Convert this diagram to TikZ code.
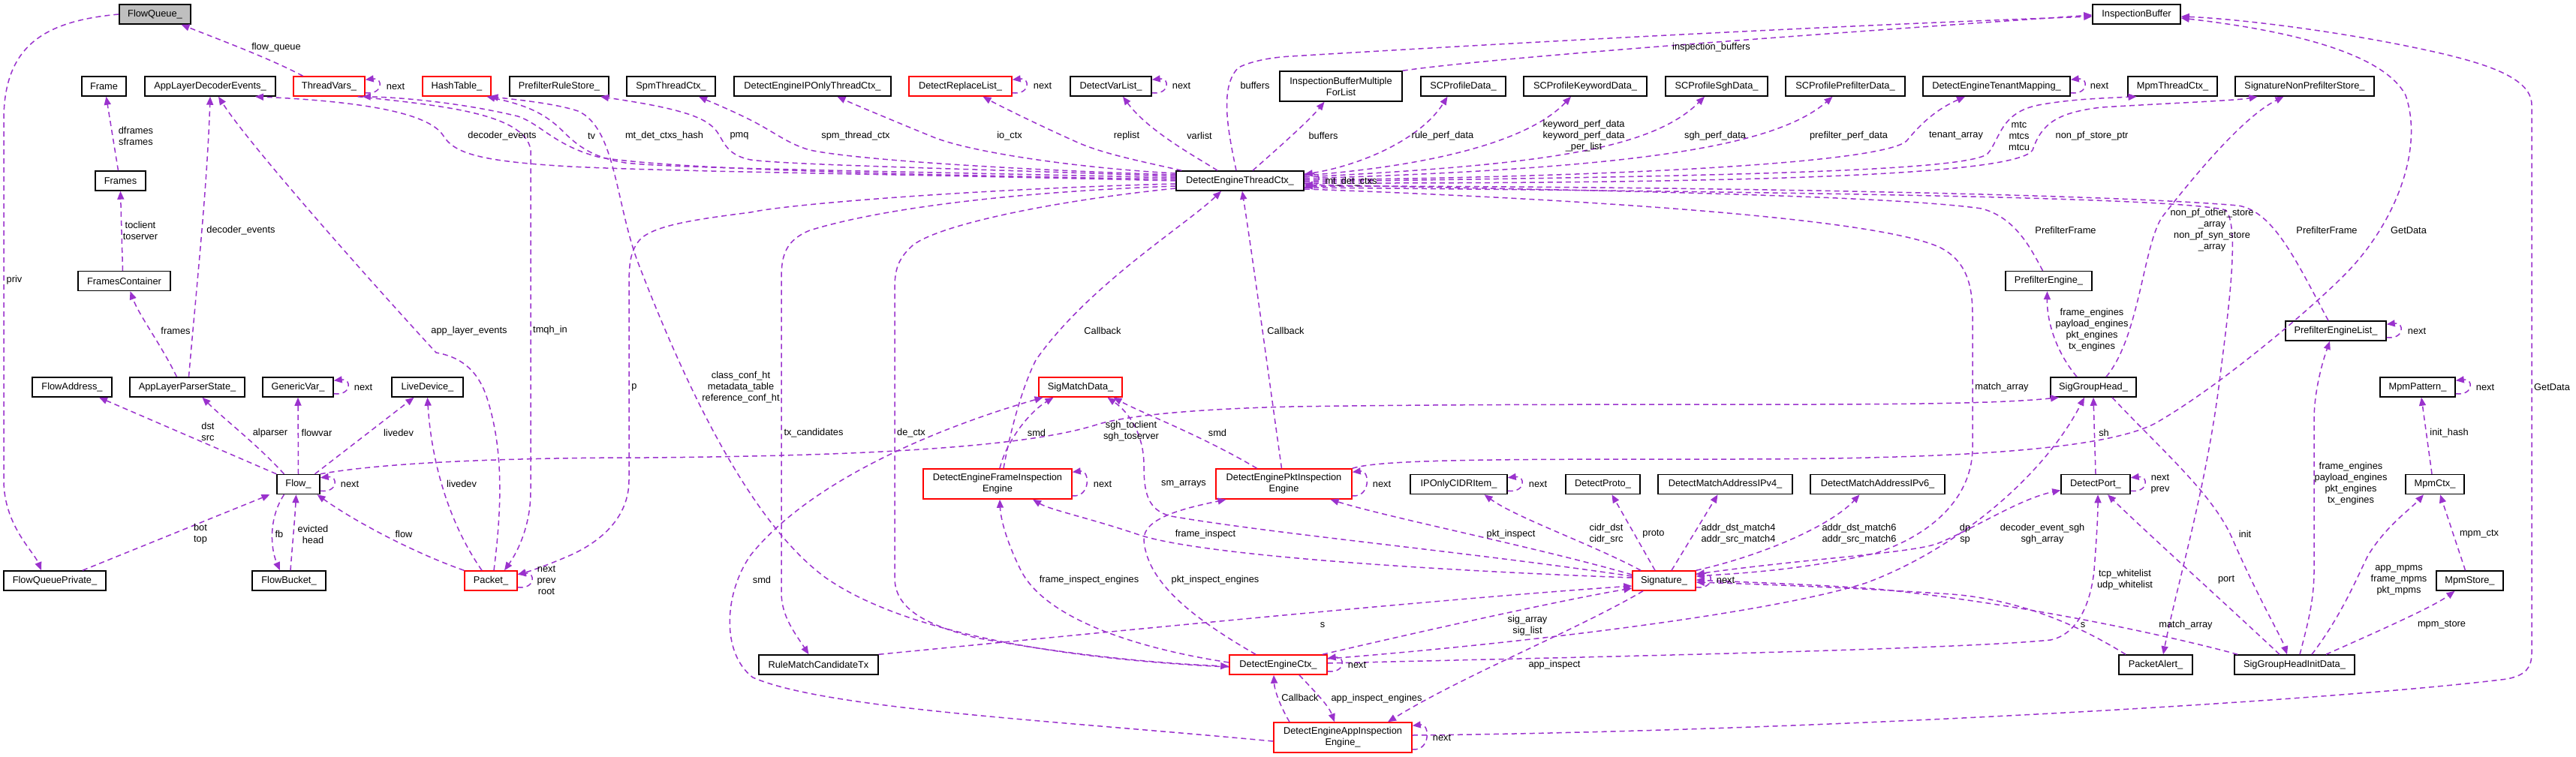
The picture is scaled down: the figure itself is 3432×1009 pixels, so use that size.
\documentclass[tikz,border=0pt]{standalone}
\usepackage{fontspec}
\setmainfont{Liberation Sans}
\usetikzlibrary{arrows.meta}
\definecolor{edgec}{HTML}{9A32CD}
\newcommand{\dxf}{\fontsize{12.8pt}{15pt}\selectfont}
\begin{document}
\begin{tikzpicture}[x=1pt,y=-1pt,
  dbox/.style={draw=black, line width=1.5pt, fill=white, inner sep=0pt, minimum height=26pt, align=center, font=\dxf},
  rdbox/.style={dbox, draw=red},
  twoline/.style={minimum height=40pt},
  lnk/.style={draw=edgec, line width=1.5pt, dash pattern=on 7pt off 5pt, -{Triangle[length=11pt,width=9pt]}},
  lbl/.style={font=\dxf, inner sep=0pt, align=center, text=black}]
\fill[white] (0,0) rectangle (3432,1009);
\useasboundingbox (0,0) rectangle (3432,1009);
% ---------------- nodes ----------------
\node[dbox, fill=black!25, minimum width=95pt] (fq) at (206.5,19) {FlowQueue\_};
\node[dbox, minimum width=117pt] (ib) at (2846.5,19) {InspectionBuffer};
\node[dbox, minimum width=59pt] (frame) at (138.5,115) {Frame};
\node[dbox, minimum width=174pt] (alde) at (280,115) {AppLayerDecoderEvents\_};
\node[rdbox, minimum width=95pt] (tv) at (438.5,115) {ThreadVars\_};
\node[rdbox, minimum width=91pt] (ht) at (608.5,115) {HashTable\_};
\node[dbox, minimum width=132pt] (prs) at (745,115) {PrefilterRuleStore\_};
\node[dbox, minimum width=118pt] (spm) at (894,115) {SpmThreadCtx\_};
\node[dbox, minimum width=209pt] (ipo) at (1082.5,115) {DetectEngineIPOnlyThreadCtx\_};
\node[rdbox, minimum width=137pt] (drl) at (1279.5,115) {DetectReplaceList\_};
\node[dbox, minimum width=108pt] (dvl) at (1480,115) {DetectVarList\_};
\node[dbox, twoline, minimum width=163pt] (ibm) at (1786.5,115) {InspectionBufferMultiple\\ForList};
\node[dbox, minimum width=113pt] (scp) at (1949.5,115) {SCProfileData\_};
\node[dbox, minimum width=164pt] (sck) at (2112,115) {SCProfileKeywordData\_};
\node[dbox, minimum width=136pt] (scs) at (2287,115) {SCProfileSghData\_};
\node[dbox, minimum width=159pt] (scpf) at (2458.5,115) {SCProfilePrefilterData\_};
\node[dbox, minimum width=196pt] (detm) at (2660,115) {DetectEngineTenantMapping\_};
\node[dbox, minimum width=119pt] (mtc) at (2894.5,115) {MpmThreadCtx\_};
\node[dbox, minimum width=185pt] (snps) at (3070.5,115) {SignatureNonPrefilterStore\_};
\node[dbox, minimum width=67pt] (frames) at (160.5,241) {Frames};
\node[dbox, minimum width=170pt] (detc) at (1652,241) {DetectEngineThreadCtx\_};
\node[dbox, minimum width=123pt] (fc) at (165.5,374.5) {FramesContainer};
\node[dbox, minimum width=115pt] (pe) at (2729.5,374.5) {PrefilterEngine\_};
\node[dbox, minimum width=134pt] (pel) at (3112,441) {PrefilterEngineList\_};
\node[dbox, minimum width=106pt] (fa) at (96,516) {FlowAddress\_};
\node[dbox, minimum width=153pt] (alps) at (249.5,516) {AppLayerParserState\_};
\node[dbox, minimum width=94pt] (gv) at (397,516) {GenericVar\_};
\node[dbox, minimum width=95pt] (ld) at (569.5,516) {LiveDevice\_};
\node[rdbox, minimum width=111pt] (smd) at (1439.5,516) {SigMatchData\_};
\node[dbox, minimum width=114pt] (sgh) at (2789,516) {SigGroupHead\_};
\node[dbox, minimum width=100pt] (mp) at (3221,516) {MpmPattern\_};
\node[dbox, minimum width=57pt] (flow) at (397.5,645.5) {Flow\_};
\node[rdbox, twoline, minimum width=198pt] (dfie) at (1329,645) {DetectEngineFrameInspection\\Engine};
\node[rdbox, twoline, minimum width=181pt] (dpie) at (1710.5,645) {DetectEnginePktInspection\\Engine};
\node[dbox, minimum width=129pt] (ipc) at (1943.5,645.5) {IPOnlyCIDRItem\_};
\node[dbox, minimum width=99pt] (dproto) at (2135.5,645.5) {DetectProto\_};
\node[dbox, minimum width=179pt] (dma4) at (2298.5,645.5) {DetectMatchAddressIPv4\_};
\node[dbox, minimum width=179pt] (dma6) at (2501.5,645.5) {DetectMatchAddressIPv6\_};
\node[dbox, minimum width=92pt] (dport) at (2792,645.5) {DetectPort\_};
\node[dbox, minimum width=78pt] (mctx) at (3244,645.5) {MpmCtx\_};
\node[dbox, minimum width=136pt] (fqp) at (73,774) {FlowQueuePrivate\_};
\node[dbox, minimum width=98pt] (fb) at (385,774) {FlowBucket\_};
\node[rdbox, minimum width=70pt] (pkt) at (654,774) {Packet\_};
\node[rdbox, minimum width=84pt] (sig) at (2217,774) {Signature\_};
\node[dbox, minimum width=89pt] (ms) at (3290.5,774) {MpmStore\_};
\node[dbox, minimum width=159pt] (rmc) at (1090.5,886) {RuleMatchCandidateTx};
\node[rdbox, minimum width=130pt] (dec) at (1703,886) {DetectEngineCtx\_};
\node[dbox, minimum width=98pt] (pa) at (2872,886) {PacketAlert\_};
\node[dbox, minimum width=160pt] (sghid) at (3057,886) {SigGroupHeadInitData\_};
\node[rdbox, twoline, minimum width=184pt] (daie) at (1789,983) {DetectEngineAppInspection\\Engine\_};
% ---------------- self loops ----------------
\foreach \n in {tv,drl,dvl,detm,detc,pel,mp,dport,gv,flow,pkt,ipc,sig,dfie,dpie,dec,daie}{
  \draw[lnk] ([yshift=5pt]\n.south east) .. controls +(24,3) and +(24,-3) .. ([yshift=-5pt]\n.north east);
}
% ---------------- connectors ----------------
\draw[lnk] ([xshift=-35pt]tv.north) .. controls (360,78) and (290,52) .. ([xshift=35pt]fq.south);
\draw[lnk] (fq.west) .. controls (60,28) and (5,60) .. (5,160) -- (5,640) .. controls (5,700) and (45,735) .. ([xshift=-18pt]fqp.north);
\draw[lnk] ([xshift=-3pt]frames.north) -- ([xshift=3pt]frame.south);
\draw[lnk] ([xshift=-2pt]fc.north) -- (frames.south);
\draw[lnk] ([xshift=-14pt]alps.north) .. controls (215,460) and (185,420) .. ([xshift=8pt]fc.south);
\draw[lnk] ([xshift=2pt]alps.north) .. controls (262,380) and (276,250) .. (alde.south);
\draw[lnk] ([xshift=4pt]pkt.north) .. controls (668,680) and (672,600) .. (648,528) .. controls (635,490) and (610,475) .. (581,470) .. controls (480,360) and (330,190) .. ([xshift=11pt]alde.south);
\draw[lnk] ([yshift=0pt]detc.west) .. controls (1200,232) and (900,229) .. (760,222) .. controls (640,215) and (605,205) .. (590,180) .. controls (570,150) and (480,135) .. ([xshift=60pt]alde.south);
\draw[lnk] ([yshift=2pt]detc.west) .. controls (1150,232) and (900,225) .. (800,210) .. controls (740,195) and (720,165) .. (690,155) .. controls (620,138) and (540,130) .. ([xshift=-4pt]tv.south east);
\draw[lnk] ([xshift=-10pt]tv.south east) .. controls (580,140) and (700,150) .. (707,200) -- (707,655) .. controls (707,700) and (690,735) .. ([xshift=18pt]pkt.north);
\draw[lnk] ([yshift=4pt]detc.west) .. controls (1200,228) and (900,225) .. (833,217) .. controls (790,210) and (770,195) .. (750,175) .. controls (725,150) and (700,140) .. ([xshift=40pt]ht.south);
\draw[lnk] ([yshift=-3pt]dec.west) .. controls (1400,878) and (1200,840) .. (1100,770) .. controls (990,690) and (900,480) .. (850,350) .. controls (820,270) and (820,170) .. (770,148) .. controls (740,138) and (690,133) .. ([xshift=44pt]ht.south);
\draw[lnk] ([yshift=6pt]detc.west) .. controls (1300,225) and (1050,220) .. (1000,213) .. controls (960,205) and (965,180) .. (947,167) .. controls (925,148) and (860,138) .. ([xshift=55pt]prs.south);
\draw[lnk] ([yshift=8pt]detc.west) .. controls (1400,228) and (1150,215) .. (1079,200) .. controls (1050,192) and (1030,175) .. (1000,160) .. controls (970,145) and (945,135) .. ([xshift=37pt]spm.south);
\draw[lnk] ([yshift=10pt]detc.west) .. controls (1450,225) and (1300,205) .. (1244,183) .. controls (1200,165) and (1140,140) .. ([xshift=33pt]ipo.south);
\draw[lnk] ([xshift=8pt]detc.north west) .. controls (1520,215) and (1470,205) .. (1436,190) .. controls (1380,165) and (1330,140) .. ([xshift=30pt]drl.south);
\draw[lnk] ([xshift=-30pt]detc.north) .. controls (1595,210) and (1530,175) .. ([xshift=16pt]dvl.south);
\draw[lnk] ([xshift=-5pt]detc.north) .. controls (1635,170) and (1625,115) .. (1650,90) .. controls (1670,80) and (1700,76) .. (1720,75) .. controls (2100,52) and (2500,32) .. ([yshift=-3pt]ib.west);
\draw[lnk] ([xshift=17pt]detc.north) .. controls (1700,200) and (1745,160) .. ([xshift=-22pt]ibm.south);
\draw[lnk] (ibm.north east) .. controls (2000,75) and (2500,40) .. ([yshift=-1pt]ib.west);
\draw[lnk] ([yshift=9pt]detc.east) .. controls (1800,225) and (1890,190) .. ([xshift=-21pt]scp.south);
\draw[lnk] ([yshift=7pt]detc.east) .. controls (1920,220) and (2040,185) .. ([xshift=-19pt]sck.south);
\draw[lnk] ([yshift=5pt]detc.east) .. controls (2050,220) and (2200,200) .. ([xshift=-16pt]scs.south);
\draw[lnk] ([yshift=3pt]detc.east) .. controls (2150,225) and (2360,200) .. ([xshift=-17pt]scpf.south);
\draw[lnk] ([yshift=1pt]detc.east) .. controls (2200,235) and (2510,215) .. (2540,188) .. controls (2555,170) and (2575,148) .. ([xshift=-42pt]detm.south);
\draw[lnk] ([yshift=-1pt]detc.east) .. controls (2300,235) and (2620,228) .. (2648,205) .. controls (2665,185) and (2665,150) .. (2716,140) .. controls (2760,132) and (2800,131) .. ([xshift=-48pt]mtc.south);
\draw[lnk] ([yshift=-3pt]detc.east) .. controls (2400,245) and (2690,230) .. (2708,200) .. controls (2720,165) and (2740,150) .. (2800,143) .. controls (2900,137) and (2980,134) .. ([xshift=-63pt]snps.south);
\draw[lnk] ([xshift=-8pt]pe.north) .. controls (2705,330) and (2685,290) .. (2640,278) .. controls (2500,258) and (2000,252) .. ([yshift=-5pt]detc.east);
\draw[lnk] ([xshift=-10pt]pel.north) .. controls (3060,350) and (3030,282) .. (2982,274) .. controls (2800,258) and (2200,248) .. ([yshift=-7pt]detc.east);
\draw[lnk] ([yshift=-9pt]detc.east) .. controls (2300,255) and (2900,262) .. (2965,280) .. controls (2985,300) and (2968,420) .. (2958,500) .. controls (2940,650) and (2900,780) .. ([xshift=10pt]pa.north);
\draw[lnk] ([yshift=-11pt]detc.east) .. controls (2100,265) and (2500,290) .. (2585,330) .. controls (2620,348) and (2628,380) .. (2628,420) -- (2628,600) .. controls (2626,660) and (2580,710) .. (2500,737) .. controls (2400,760) and (2320,764) .. ([yshift=6pt]sig.east);
\draw[lnk] (flow.north east) .. controls (520,615) and (700,610) .. (860,610) .. controls (1100,608) and (1350,600) .. (1458,567) .. controls (1500,553) and (1600,545) .. (1720,542) .. controls (2200,535) and (2600,545) .. ([xshift=-46pt]sgh.south);
\draw[lnk] ([yshift=2pt]dec.east) .. controls (2100,876) and (2600,866) .. (2732,853) .. controls (2770,845) and (2786,800) .. (2790,760) .. controls (2793,720) and (2795,690) .. ([xshift=3pt]dport.south);
\draw[lnk] ([yshift=8pt]dec.east) .. controls (2000,860) and (2350,820) .. (2486,777) .. controls (2600,735) and (2720,640) .. ([xshift=-12pt]sgh.south);
\draw[lnk] ([yshift=-5pt]sig.north east) .. controls (2400,745) and (2540,738) .. (2580,725) .. controls (2630,705) and (2690,665) .. ([yshift=-8pt]dport.west);
\draw[lnk] ([xshift=5pt]sghid.north west) .. controls (2900,850) and (2700,805) .. (2500,785) .. controls (2400,778) and (2320,776) .. ([yshift=1pt]sig.east);
\draw[lnk] ([xshift=-40pt]pa.north) .. controls (2780,840) and (2700,800) .. (2600,792) .. controls (2450,782) and (2320,778) .. ([yshift=-2pt]sig.east);
\draw[lnk] ([xshift=-31pt]sig.north) .. controls (2120,725) and (2020,690) .. ([xshift=34pt]ipc.south);
\draw[lnk] ([xshift=-12pt]sig.north) -- ([xshift=12pt]dproto.south);
\draw[lnk] ([xshift=10pt]sig.north) -- ([xshift=-10pt]dma4.south);
\draw[lnk] (sig.north east) .. controls (2350,740) and (2440,700) .. ([xshift=-24pt]dma6.south);
\draw[lnk] ([yshift=4pt]sig.west) .. controls (1900,760) and (1600,740) .. (1518,713) .. controls (1450,690) and (1400,680) .. ([xshift=47pt]dfie.south);
\draw[lnk] ([yshift=8pt]sig.west) .. controls (2050,730) and (1850,690) .. ([xshift=62pt]dpie.south);
\draw[lnk] ([yshift=6pt]sig.west) .. controls (1950,735) and (1700,712) .. (1560,688) .. controls (1528,680) and (1524,655) .. (1524,620) .. controls (1524,580) and (1505,550) .. ([xshift=36pt]smd.south);
\draw[lnk] ([xshift=3pt]dfie.north) .. controls (1340,590) and (1370,550) .. ([xshift=-36pt]smd.south);
\draw[lnk] ([xshift=-36pt]dpie.north) .. controls (1600,580) and (1520,550) .. ([xshift=44pt]smd.south);
\draw[lnk] ([yshift=-5pt]daie.west) .. controls (1400,960) and (1100,945) .. (1003,903) .. controls (960,870) and (965,790) .. (1000,740) .. controls (1080,640) and (1250,570) .. ([xshift=-50pt]smd.south);
\draw[lnk] ([xshift=8pt]dfie.north) .. controls (1345,580) and (1360,520) .. (1380,480) .. controls (1450,380) and (1580,300) .. ([xshift=-25pt]detc.south);
\draw[lnk] ([xshift=-3pt]dpie.north) .. controls (1690,500) and (1670,350) .. ([xshift=3pt]detc.south);
\draw[lnk] ([yshift=3pt]dec.west) .. controls (1500,862) and (1390,820) .. (1360,760) .. controls (1340,720) and (1333,690) .. ([xshift=3pt]dfie.south);
\draw[lnk] ([xshift=-30pt]dec.north) .. controls (1600,830) and (1528,780) .. (1524,720) .. controls (1522,690) and (1580,677) .. ([xshift=-77pt]dpie.south);
\draw[lnk] ([yshift=-10pt]detc.west) .. controls (1400,268) and (1250,300) .. (1216,327) .. controls (1196,345) and (1192,360) .. (1192,385) -- (1192,770) .. controls (1192,810) and (1230,832) .. (1300,850) .. controls (1450,878) and (1580,886) .. ([yshift=-2pt]dec.west);
\draw[lnk] ([yshift=-7pt]detc.west) .. controls (1300,258) and (1150,285) .. (1079,307) .. controls (1047,320) and (1041,340) .. (1041,370) -- (1041,790) .. controls (1041,822) and (1060,845) .. ([xshift=-13pt]rmc.north);
\draw[lnk] ([yshift=-4pt]detc.west) .. controls (1300,252) and (1050,272) .. (1000,283) .. controls (930,292) and (870,300) .. (852,320) .. controls (840,335) and (838,350) .. (838,380) -- (838,640) .. controls (838,690) and (800,722) .. (760,740) .. controls (730,753) and (710,760) .. ([yshift=8pt]pkt.east);
\draw[lnk] (rmc.north east) .. controls (1500,840) and (1900,800) .. ([yshift=-7pt]sig.west);
\draw[lnk] ([xshift=59pt]dec.north) .. controls (1900,840) and (2080,800) .. ([yshift=-10pt]sig.west);
\draw[lnk] ([xshift=-71pt]daie.north) .. controls (1705,940) and (1698,920) .. ([xshift=-6pt]dec.south);
\draw[lnk] ([xshift=28pt]dec.south) .. controls (1750,920) and (1770,940) .. ([xshift=-11pt]daie.north);
\draw[lnk] ([xshift=-28pt]sig.south) .. controls (2100,840) and (1950,900) .. ([xshift=60pt]daie.north);
\draw[lnk] ([yshift=3pt]daie.east) .. controls (2400,975) and (3100,935) .. (3340,905) .. controls (3365,900) and (3373,890) .. (3373,870) -- (3373,140) .. controls (3373,100) and (3300,80) .. (3200,60) .. controls (3100,40) and (2980,25) .. ([yshift=-3pt]ib.east);
\draw[lnk] (dpie.north east) .. controls (1840,612) and (2000,612) .. (2300,612) .. controls (2600,612) and (2800,600) .. (2870,565) .. controls (2950,520) and (3070,420) .. (3123,367) .. controls (3190,300) and (3230,200) .. (3205,127) .. controls (3170,60) and (3000,35) .. ([yshift=-5pt]ib.east);
\draw[lnk] ([xshift=-22pt]sgh.north) .. controls (2740,470) and (2727,430) .. ([xshift=-2pt]pe.south);
\draw[lnk] ([xshift=17pt]sgh.north) .. controls (2850,450) and (2855,330) .. (2880,290) .. controls (2950,200) and (3000,150) .. ([xshift=-28pt]snps.south);
\draw[lnk] ([xshift=25pt]sgh.south) .. controls (2880,600) and (2950,660) .. (2975,720) .. controls (3010,800) and (3040,850) .. ([xshift=-10pt]sghid.north);
\draw[lnk] ([xshift=-20pt]sghid.north) .. controls (2960,800) and (2860,710) .. ([xshift=16pt]dport.south);
\draw[lnk] ([xshift=7pt]sghid.north) .. controls (3075,830) and (3083,800) .. (3083,760) -- (3083,560) .. controls (3083,520) and (3095,480) .. ([xshift=-8pt]pel.south);
\draw[lnk] ([xshift=23pt]sghid.north) .. controls (3120,820) and (3140,770) .. (3155,740) .. controls (3180,700) and (3210,680) .. ([xshift=-15pt]mctx.south);
\draw[lnk] ([xshift=42pt]sghid.north) .. controls (3160,845) and (3240,810) .. ([xshift=-20pt]ms.south);
\draw[lnk] ([xshift=-6pt]ms.north) -- ([xshift=7pt]mctx.south);
\draw[lnk] ([xshift=-4pt]mctx.north) -- ([xshift=5pt]mp.south);
\draw[lnk] (dport.north) -- (sgh.south);
\draw[lnk] (flow.north west) -- ([xshift=36pt]fa.south);
\draw[lnk] ([xshift=-19pt]flow.north) .. controls (340,590) and (300,560) .. ([xshift=20pt]alps.south);
\draw[lnk] (flow.north) -- (gv.south);
\draw[lnk] ([xshift=22pt]flow.north) -- ([xshift=-18pt]ld.south);
\draw[lnk] ([xshift=37pt]fqp.north) -- ([xshift=-38pt]flow.south);
\draw[lnk] ([xshift=-19pt]flow.south) .. controls (358,690) and (360,730) .. ([xshift=-12pt]fb.north);
\draw[lnk] ([xshift=2pt]fb.north) .. controls (390,720) and (393,690) .. ([xshift=-3pt]flow.south);
\draw[lnk] (pkt.north west) .. controls (560,740) and (480,700) .. ([xshift=25pt]flow.south);
\draw[lnk] ([xshift=-12pt]pkt.north) .. controls (600,700) and (575,620) .. (ld.south);
% ---------------- labels ----------------
\node[lbl] (l01) at (368,63) {flow\_queue};
\node[lbl] (l02) at (527,115) {next};
\node[lbl] (l03) at (19,373) {priv};
\node[lbl] (l04) at (181,181) {dframes\\sframes};
\node[lbl] (l05) at (187,307) {toclient\\toserver};
\node[lbl] (l06) at (234,441) {frames};
\node[lbl] (l07) at (321,307) {decoder\_events};
\node[lbl] (l08) at (625,441) {app\_layer\_events};
\node[lbl] (l09) at (669,181) {decoder\_events};
\node[lbl] (l10) at (788,181) {tv};
\node[lbl] (l11) at (733,440) {tmqh\_in};
\node[lbl] (l12) at (885,181) {mt\_det\_ctxs\_hash};
\node[lbl] (l13) at (987,516) {class\_conf\_ht\\metadata\_table\\reference\_conf\_ht};
\node[lbl] (l14) at (985,181) {pmq};
\node[lbl] (l15) at (1140,181) {spm\_thread\_ctx};
\node[lbl] (l16) at (1345,181) {io\_ctx};
\node[lbl] (l17) at (1389,114) {next};
\node[lbl] (l18) at (1501,181) {replist};
\node[lbl] (l19) at (1574,114) {next};
\node[lbl] (l20) at (1598,181) {varlist};
\node[lbl] (l21) at (1672,114) {buffers};
\node[lbl] (l22) at (1763,181) {buffers};
\node[lbl] (l23) at (2280,63) {inspection\_buffers};
\node[lbl] (l24) at (1922,181) {rule\_perf\_data};
\node[lbl] (l25) at (2110,181) {keyword\_perf\_data\\keyword\_perf\_data\\\_per\_list};
\node[lbl] (l26) at (2285,181) {sgh\_perf\_data};
\node[lbl] (l27) at (2463,181) {prefilter\_perf\_data};
\node[lbl] (l28) at (2606,181) {tenant\_array};
\node[lbl] (l29) at (2797,114) {next};
\node[lbl] (l30) at (2690,181) {mtc\\mtcs\\mtcu};
\node[lbl] (l31) at (2787,181) {non\_pf\_store\_ptr};
\node[lbl] (l32) at (1800,242) {mt\_det\_ctxs};
\node[lbl] (l33) at (2752,307) {PrefilterFrame};
\node[lbl] (l34) at (3100,307) {PrefilterFrame};
\node[lbl] (l35) at (3209,307) {GetData};
\node[lbl] (l36) at (2787,440) {frame\_engines\\payload\_engines\\pkt\_engines\\tx\_engines};
\node[lbl] (l37) at (2947,307) {non\_pf\_other\_store\\\_array\\non\_pf\_syn\_store\\\_array};
\node[lbl] (l38) at (3220,441) {next};
\node[lbl] (l39) at (3400,516) {GetData};
\node[lbl] (l40) at (2991,712) {init};
\node[lbl] (l41) at (2966,773) {port};
\node[lbl] (l42) at (3132,645) {frame\_engines\\payload\_engines\\pkt\_engines\\tx\_engines};
\node[lbl] (l43) at (3196,773) {app\_mpms\\frame\_mpms\\pkt\_mpms};
\node[lbl] (l44) at (3253,833) {mpm\_store};
\node[lbl] (l45) at (3303,712) {mpm\_ctx};
\node[lbl] (l46) at (3263,577) {init\_hash};
\node[lbl] (l47) at (3311,516) {next};
\node[lbl] (l48) at (2803,577) {sh};
\node[lbl] (l49) at (2878,645) {next\\prev};
\node[lbl] (l50) at (2721,712) {decoder\_event\_sgh\\sgh\_array};
\node[lbl] (l51) at (1507,575) {sgh\_toclient\\sgh\_toserver};
\node[lbl] (l52) at (2831,773) {tcp\_whitelist\\udp\_whitelist};
\node[lbl] (l53) at (2618,712) {dp\\sp};
\node[lbl] (l54) at (2667,516) {match\_array};
\node[lbl] (l55) at (2912,833) {match\_array};
\node[lbl] (l56) at (2775,833) {s};
\node[lbl] (l57) at (2299,773) {next};
\node[lbl] (l58) at (2140,712) {cidr\_dst\\cidr\_src};
\node[lbl] (l59) at (2049,645) {next};
\node[lbl] (l60) at (2203,712) {proto};
\node[lbl] (l61) at (2316,712) {addr\_dst\_match4\\addr\_src\_match4};
\node[lbl] (l62) at (2477,712) {addr\_dst\_match6\\addr\_src\_match6};
\node[lbl] (l63) at (1606,712) {frame\_inspect};
\node[lbl] (l64) at (2013,712) {pkt\_inspect};
\node[lbl] (l65) at (1577,645) {sm\_arrays};
\node[lbl] (l66) at (1381,577) {smd};
\node[lbl] (l67) at (1622,577) {smd};
\node[lbl] (l68) at (1015,773) {smd};
\node[lbl] (l69) at (1469,645) {next};
\node[lbl] (l70) at (1841,645) {next};
\node[lbl] (l71) at (1469,441) {Callback};
\node[lbl] (l72) at (1713,441) {Callback};
\node[lbl] (l73) at (1451,773) {frame\_inspect\_engines};
\node[lbl] (l74) at (1619,773) {pkt\_inspect\_engines};
\node[lbl] (l75) at (1214,577) {de\_ctx};
\node[lbl] (l76) at (1084,577) {tx\_candidates};
\node[lbl] (l77) at (845,516) {p};
\node[lbl] (l78) at (1762,833) {s};
\node[lbl] (l79) at (2035,834) {sig\_array\\sig\_list};
\node[lbl] (l80) at (1808,886) {next};
\node[lbl] (l81) at (1732,930) {Callback};
\node[lbl] (l82) at (1834,931) {app\_inspect\_engines};
\node[lbl] (l83) at (2071,886) {app\_inspect};
\node[lbl] (l84) at (1921,983) {next};
\node[lbl] (l85) at (277,575) {dst\\src};
\node[lbl] (l86) at (360,577) {alparser};
\node[lbl] (l87) at (422,577) {flowvar};
\node[lbl] (l88) at (484,516) {next};
\node[lbl] (l89) at (531,577) {livedev};
\node[lbl] (l90) at (466,645) {next};
\node[lbl] (l91) at (267,712) {bot\\top};
\node[lbl] (l92) at (372,712) {fb};
\node[lbl] (l93) at (417,712) {evicted\\head};
\node[lbl] (l94) at (538,712) {flow};
\node[lbl] (l95) at (615,645) {livedev};
\node[lbl] (l96) at (728,773) {next\\prev\\root};
\end{tikzpicture}
\end{document}
